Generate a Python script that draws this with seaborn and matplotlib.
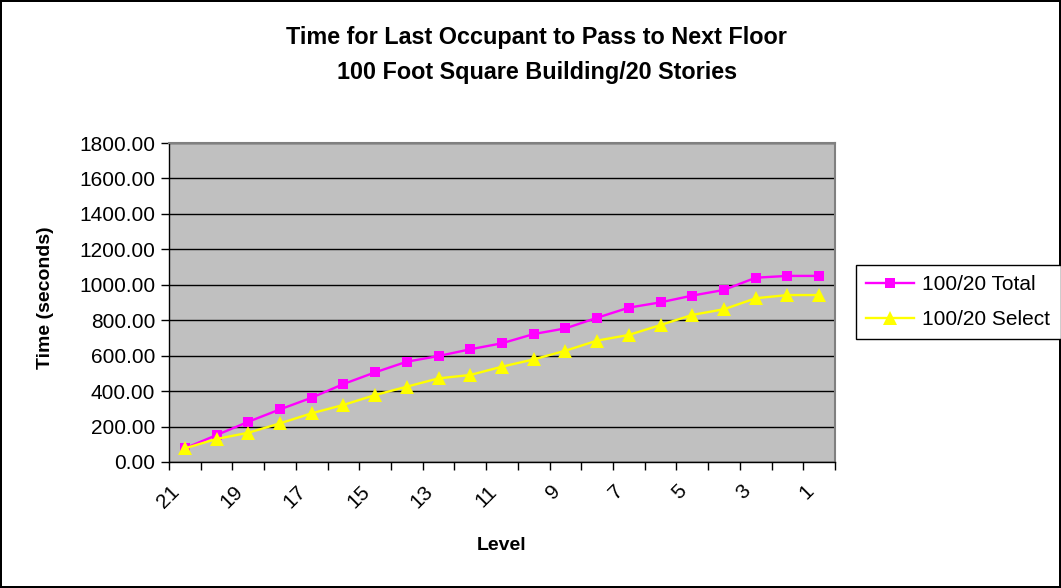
import matplotlib
matplotlib.use('Agg')
import matplotlib.pyplot as plt
import matplotlib.transforms as mtransforms
import seaborn as sns
from matplotlib.ticker import FixedLocator, FormatStrFormatter

plt.rcParams['font.family'] = ['Liberation Sans', 'DejaVu Sans']

# Values
levels = [21, 20, 19, 18, 17, 16, 15, 14, 13, 12, 11, 10, 9, 8, 7, 6, 5, 4, 3, 2, 1]
total = [77, 152, 227, 297, 363, 440, 506, 566, 598, 636, 670,
         722, 754, 814, 871, 901, 939, 971, 1040, 1050, 1050]
select = [77, 130, 165, 218, 275, 322, 378, 425, 472, 491, 538,
          579, 628, 685, 717, 773, 830, 862, 924, 942, 942]
label_levels = [21, 19, 17, 15, 13, 11, 9, 7, 5, 3, 1]

fig, ax = plt.subplots(figsize=(10.61, 5.88), dpi=100,
                       edgecolor='black', linewidth=1.5)
fig.subplots_adjust(left=0.1593, right=0.787, bottom=0.2143, top=0.7568)
ax.set_facecolor('#C0C0C0')

sns.lineplot(x=levels, y=total, color='#FF00FF', marker='s', markersize=7.8,
             markeredgewidth=0, linewidth=1.7, label='100/20 Total', ax=ax, zorder=3)
sns.lineplot(x=levels, y=select, color='#FFFF00', marker='^', markersize=10,
             markeredgewidth=0, linewidth=1.7, label='100/20 Select', ax=ax, zorder=3)
if ax.get_legend() is not None:
    ax.get_legend().remove()

# category axis running from 21 down to 1
ax.set_xlim(21.5, 0.5)
ax.set_ylim(0, 1800)
ax.set_yticks(range(0, 1801, 200))
ax.yaxis.set_major_formatter(FormatStrFormatter('%.2f'))
ax.set_xticks(label_levels)
ax.set_xticklabels([str(v) for v in label_levels], rotation=45,
                   ha='right', va='center', rotation_mode='anchor')
ax.xaxis.set_minor_locator(FixedLocator([v + 0.5 for v in range(0, 22)]))
ax.tick_params(axis='x', which='major', length=0, pad=19, labelsize=15)
ax.tick_params(axis='x', which='minor', length=6, width=1, color='black')
ax.tick_params(axis='y', length=6, width=1, pad=4, labelsize=15, color='black')
shift = mtransforms.ScaledTranslation(-6 / 72, 0, fig.dpi_scale_trans)
for lab in ax.get_xticklabels():
    lab.set_transform(lab.get_transform() + shift)

ax.grid(axis='y', color='black', linewidth=1)
ax.grid(axis='x', visible=False)
ax.set_axisbelow(True)
for side in ['top', 'right']:
    ax.spines[side].set_color('#808080')
    ax.spines[side].set_linewidth(1.5)
for side in ['left', 'bottom']:
    ax.spines[side].set_color('black')
    ax.spines[side].set_linewidth(1)

ax.set_ylabel('Time (seconds)', fontsize=14, fontweight='bold')
ax.yaxis.set_label_coords(-0.172, 0.514)
ax.set_xlabel('Level', fontsize=14, fontweight='bold')
ax.xaxis.set_label_coords(0.5, -0.235)

fig.text(0.506, 0.937, 'Time for Last Occupant to Pass to Next Floor',
         ha='center', va='center', fontsize=16.8, fontweight='bold')
fig.text(0.506, 0.877, '100 Foot Square Building/20 Stories',
         ha='center', va='center', fontsize=16.8, fontweight='bold')

handles, labels = ax.get_legend_handles_labels()
leg = fig.legend(handles, labels, loc='upper left', bbox_to_anchor=(0.8068, 0.5493),
                 fontsize=15, frameon=True, fancybox=False, framealpha=1,
                 edgecolor='black', borderaxespad=0, handlelength=2.3,
                 handletextpad=0.38, labelspacing=0.74, borderpad=0.5)
leg.get_frame().set_linewidth(1)

plt.savefig('out.png', dpi=100)
plt.close()
